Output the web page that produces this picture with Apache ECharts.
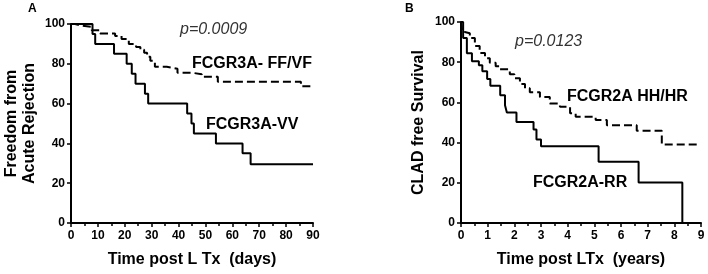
<!DOCTYPE html>
<html>
<head>
<meta charset="utf-8">
<script src="https://cdn.jsdelivr.net/npm/echarts@6/dist/echarts.min.js"></script>
<style>html,body{margin:0;padding:0;background:#fff}#c{width:708px;height:274px}</style>
</head>
<body>
<div id="c"></div>
<script>
// Panel A: freedom from acute rejection (days)
var timesVV = [0, 8, 9, 16, 20.7, 22.6, 24, 27.5, 28.7, 43.2, 44.8, 45.7, 53.9, 63.8, 66.8, 90];
var survVV  = [100, 95, 90, 85, 80, 75, 70, 65, 60, 55, 50, 45, 40, 35, 29.5, 29.5];
var timesFF = [0, 1.5, 4, 7.7, 10.8, 16.4, 18.8, 21.5, 24.2, 25.8, 27.2, 28.3, 29.5, 31.2, 35.6, 39.6, 45, 48.6, 54.6, 85.5, 90];
var survFF  = [100, 99.2, 98.6, 96.8, 95.2, 94, 92.5, 90, 88.5, 87, 85.5, 83.5, 81.5, 78.5, 77.5, 75.5, 74.8, 73.5, 71, 68.7, 68.7];
// Panel B: CLAD free survival (years)
var timesRR = [0, 0.08, 0.22, 0.41, 0.67, 0.8, 0.98, 1.1, 1.47, 1.65, 1.72, 2.08, 2.72, 2.83, 3.0, 5.16, 6.66, 8.3];
var survRR  = [100, 92, 84.5, 80.5, 78.5, 75.5, 71.7, 68.3, 63.5, 58.6, 55, 50.3, 46.5, 41.5, 38.2, 30.5, 20.2, 0];
var timesHH = [0, 0.05, 0.14, 0.33, 0.52, 0.7, 0.9, 1.08, 1.3, 1.45, 1.83, 2.0, 2.21, 2.4, 2.58, 2.96, 3.33, 3.71, 4.09, 4.3, 5.05, 5.47, 6.59, 7.53, 8.97];
var survHH  = [100, 95, 94.4, 92, 88, 84.6, 82, 79.7, 78, 76.5, 74, 72, 69.2, 67, 65.1, 62.7, 59.4, 57.8, 54.6, 52.9, 51.3, 48.6, 45.9, 39, 39];

var yTicks = [0, 20, 40, 60, 80, 100];

function pairs(t, s) { return t.map(function (v, i) { return [v, s[i]]; }); }

var FONT = '"Liberation Sans", Arial, sans-serif';
var lineAx = { show: true, onZero: false, lineStyle: { color: '#000', width: 2 } };
var tickAx = { show: true, inside: false, length: 4, lineStyle: { color: '#000', width: 1.5 } };
var lblAx = { color: '#000', fontFamily: FONT, fontWeight: 'bold', fontSize: 12 };
var nameSt = { color: '#000', fontFamily: FONT, fontWeight: 'bold', fontSize: 16, lineHeight: 18 };

function xAx(idx, max, interval, name) {
  return {
    type: 'value', gridIndex: idx, min: 0, max: max, interval: interval,
    axisLine: lineAx, axisTick: tickAx,
    minorTick: { show: true, splitNumber: 2, length: 3, lineStyle: { color: '#000', width: 1.5 } },
    axisLabel: Object.assign({ margin: 7 }, lblAx),
    splitLine: { show: false }, minorSplitLine: { show: false },
    name: name, nameLocation: 'middle', nameGap: 28, nameTextStyle: nameSt
  };
}
function yAx(idx, name, gap) {
  return {
    type: 'value', gridIndex: idx, min: yTicks[0], max: yTicks[yTicks.length - 1], interval: 20,
    axisLine: lineAx, axisTick: tickAx,
    axisLabel: Object.assign({ margin: 6 }, lblAx),
    splitLine: { show: false },
    name: name, nameLocation: 'middle', nameGap: gap, nameRotate: 90, nameTextStyle: nameSt
  };
}
function txt(x, y, s, size, style, weight, color) {
  return { type: 'text', left: x, top: y, style: { text: s, fill: color || '#000', font: (style || 'normal') + ' ' + (weight || 'bold') + ' ' + size + 'px ' + FONT } };
}

var chart = echarts.init(document.getElementById('c'), null, { renderer: 'canvas' });
chart.setOption({
  animation: false,
  grid: [
    { left: 71, top: 24, width: 242, height: 204 },
    { left: 461, top: 22, width: 240, height: 205 }
  ],
  xAxis: [xAx(0, 90, 10, 'Time post L Tx  (days)'), xAx(1, 9, 1, 'Time post LTx  (years)')],
  yAxis: [yAx(0, 'Freedom from\nAcute Rejection', 32), yAx(1, 'CLAD free Survival', 33)],
  series: [
    { type: 'line', xAxisIndex: 0, yAxisIndex: 0, step: 'end', symbol: 'none', data: pairs(timesVV, survVV), lineStyle: { color: '#000', width: 2 } },
    { type: 'line', xAxisIndex: 0, yAxisIndex: 0, step: 'end', symbol: 'none', data: pairs(timesFF, survFF), lineStyle: { color: '#000', width: 2, type: [8, 4] } },
    { type: 'line', xAxisIndex: 1, yAxisIndex: 1, step: 'end', symbol: 'none', data: pairs(timesRR, survRR), lineStyle: { color: '#000', width: 2 } },
    { type: 'line', xAxisIndex: 1, yAxisIndex: 1, step: 'end', symbol: 'none', data: pairs(timesHH, survHH), lineStyle: { color: '#000', width: 2, type: [8, 4] } }
  ],
  graphic: [
    txt(28, 3, 'A', 12),
    txt(405, 3, 'B', 12),
    txt(180, 22, 'p=0.0009', 16, 'italic', 'normal', '#333'),
    txt(192, 56, 'FCGR3A- FF/VF', 16),
    txt(206, 117, 'FCGR3A-VV', 16),
    txt(515, 34, 'p=0.0123', 16, 'italic', 'normal', '#333'),
    txt(567, 89, 'FCGR2A HH/HR', 16),
    txt(533, 175, 'FCGR2A-RR', 16)
  ]
});
</script>
</body>
</html>
